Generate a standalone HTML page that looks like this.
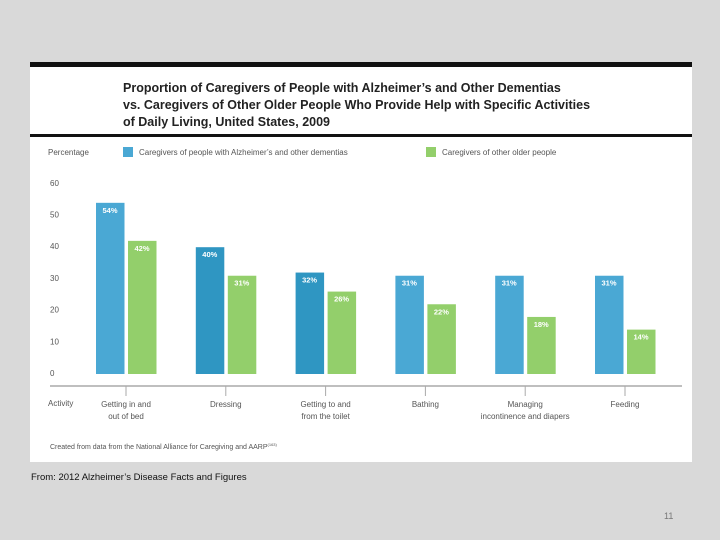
<!DOCTYPE html>
<html><head><meta charset="utf-8"><style>
body{margin:0;width:720px;height:540px;background:#d9d9d9;font-family:"Liberation Sans",sans-serif;overflow:hidden;position:relative}
</style></head><body>
<svg width="720" height="540" style="position:absolute;left:0;top:0">
<rect x="30" y="62" width="662" height="400" fill="#fff"/>
<rect x="30" y="62" width="662" height="5" fill="#111"/>
<rect x="30" y="134" width="662" height="3" fill="#111"/>
<g font-weight="bold" font-size="12.5" fill="#222">
<text x="123" y="92">Proportion of Caregivers of People with Alzheimer’s and Other Dementias</text>
<text x="123" y="109">vs. Caregivers of Other Older People Who Provide Help with Specific Activities</text>
<text x="123" y="126">of Daily Living, United States, 2009</text>
</g>
<text x="48" y="155" font-size="8" fill="#555">Percentage</text>
<rect x="123" y="147" width="10" height="10" fill="#4aa8d4"/>
<text x="139" y="155" font-size="8" fill="#555">Caregivers of people with Alzheimer’s and other dementias</text>
<rect x="426" y="147" width="10" height="10" fill="#93cf6b"/>
<text x="442" y="155" font-size="8" fill="#555">Caregivers of other older people</text>
<g id="yt"></g><g id="bars"></g><g id="xl"></g>
<line x1="50" y1="386" x2="682" y2="386" stroke="#aaa" stroke-width="1.5"/>
<text x="48" y="406" font-size="8" fill="#555">Activity</text>
<text x="50" y="449" font-size="7" fill="#555">Created from data from the National Alliance for Caregiving and AARP<tspan font-size="4" dy="-3">(163)</tspan></text>
<text x="31" y="480" font-size="9.5" fill="#111">From: 2012 Alzheimer’s Disease Facts and Figures</text>
<text x="664" y="519" font-size="9" fill="#777">11</text>
</svg>
<script>
const categories=[["Getting in and","out of bed"],["Dressing"],["Getting to and","from the toilet"],["Bathing"],["Managing","incontinence and diapers"],["Feeding"]];
const alzValues=[54,40,32,31,31,31];
const otherValues=[42,31,26,22,18,14];
const yTicks=[0,10,20,30,40,50,60];
const NS="http://www.w3.org/2000/svg";
const y0=374,k=3.17;
function yS(v){return y0-v*k;}
function xC(i){return 126+i*99.8;}
function mk(tag,attrs,parent){const e=document.createElementNS(NS,tag);for(const a in attrs)e.setAttribute(a,attrs[a]);document.getElementById(parent).appendChild(e);return e;}
yTicks.forEach(t=>{const e=mk("text",{x:50,y:yS(t)+2,"font-size":8,fill:"#555"},"yt");e.textContent=t;

});
const blues=["#4aa8d4","#2f96c2","#2f96c2","#4aa8d4","#4aa8d4","#4aa8d4"];
categories.forEach((c,i)=>{
 const cx=xC(i);
 [[alzValues[i],cx-30,blues[i],'bar-alz'],[otherValues[i],cx+2,"#93cf6b",'bar-other']].forEach(([v,x,col,nm])=>{
  const r=mk("rect",{x:x,y:yS(v),width:28.5,height:v*k,fill:col},"bars");
  
  
  const t=mk("text",{x:x+14,y:yS(v)+10,"font-size":7.5,"font-weight":"bold",fill:"#fff","text-anchor":"middle"},"bars");
  t.textContent=v+"%";
  
  
 });
 const tk=mk("line",{x1:cx,y1:386,x2:cx,y2:396,stroke:"#aaa"},"xl");
 
 
 c.forEach((ln,j)=>{const t=mk("text",{x:cx,y:407+j*12,"font-size":8,fill:"#555","text-anchor":"middle"},"xl");t.textContent=ln;
 
 });
});
</script>
</body></html>
